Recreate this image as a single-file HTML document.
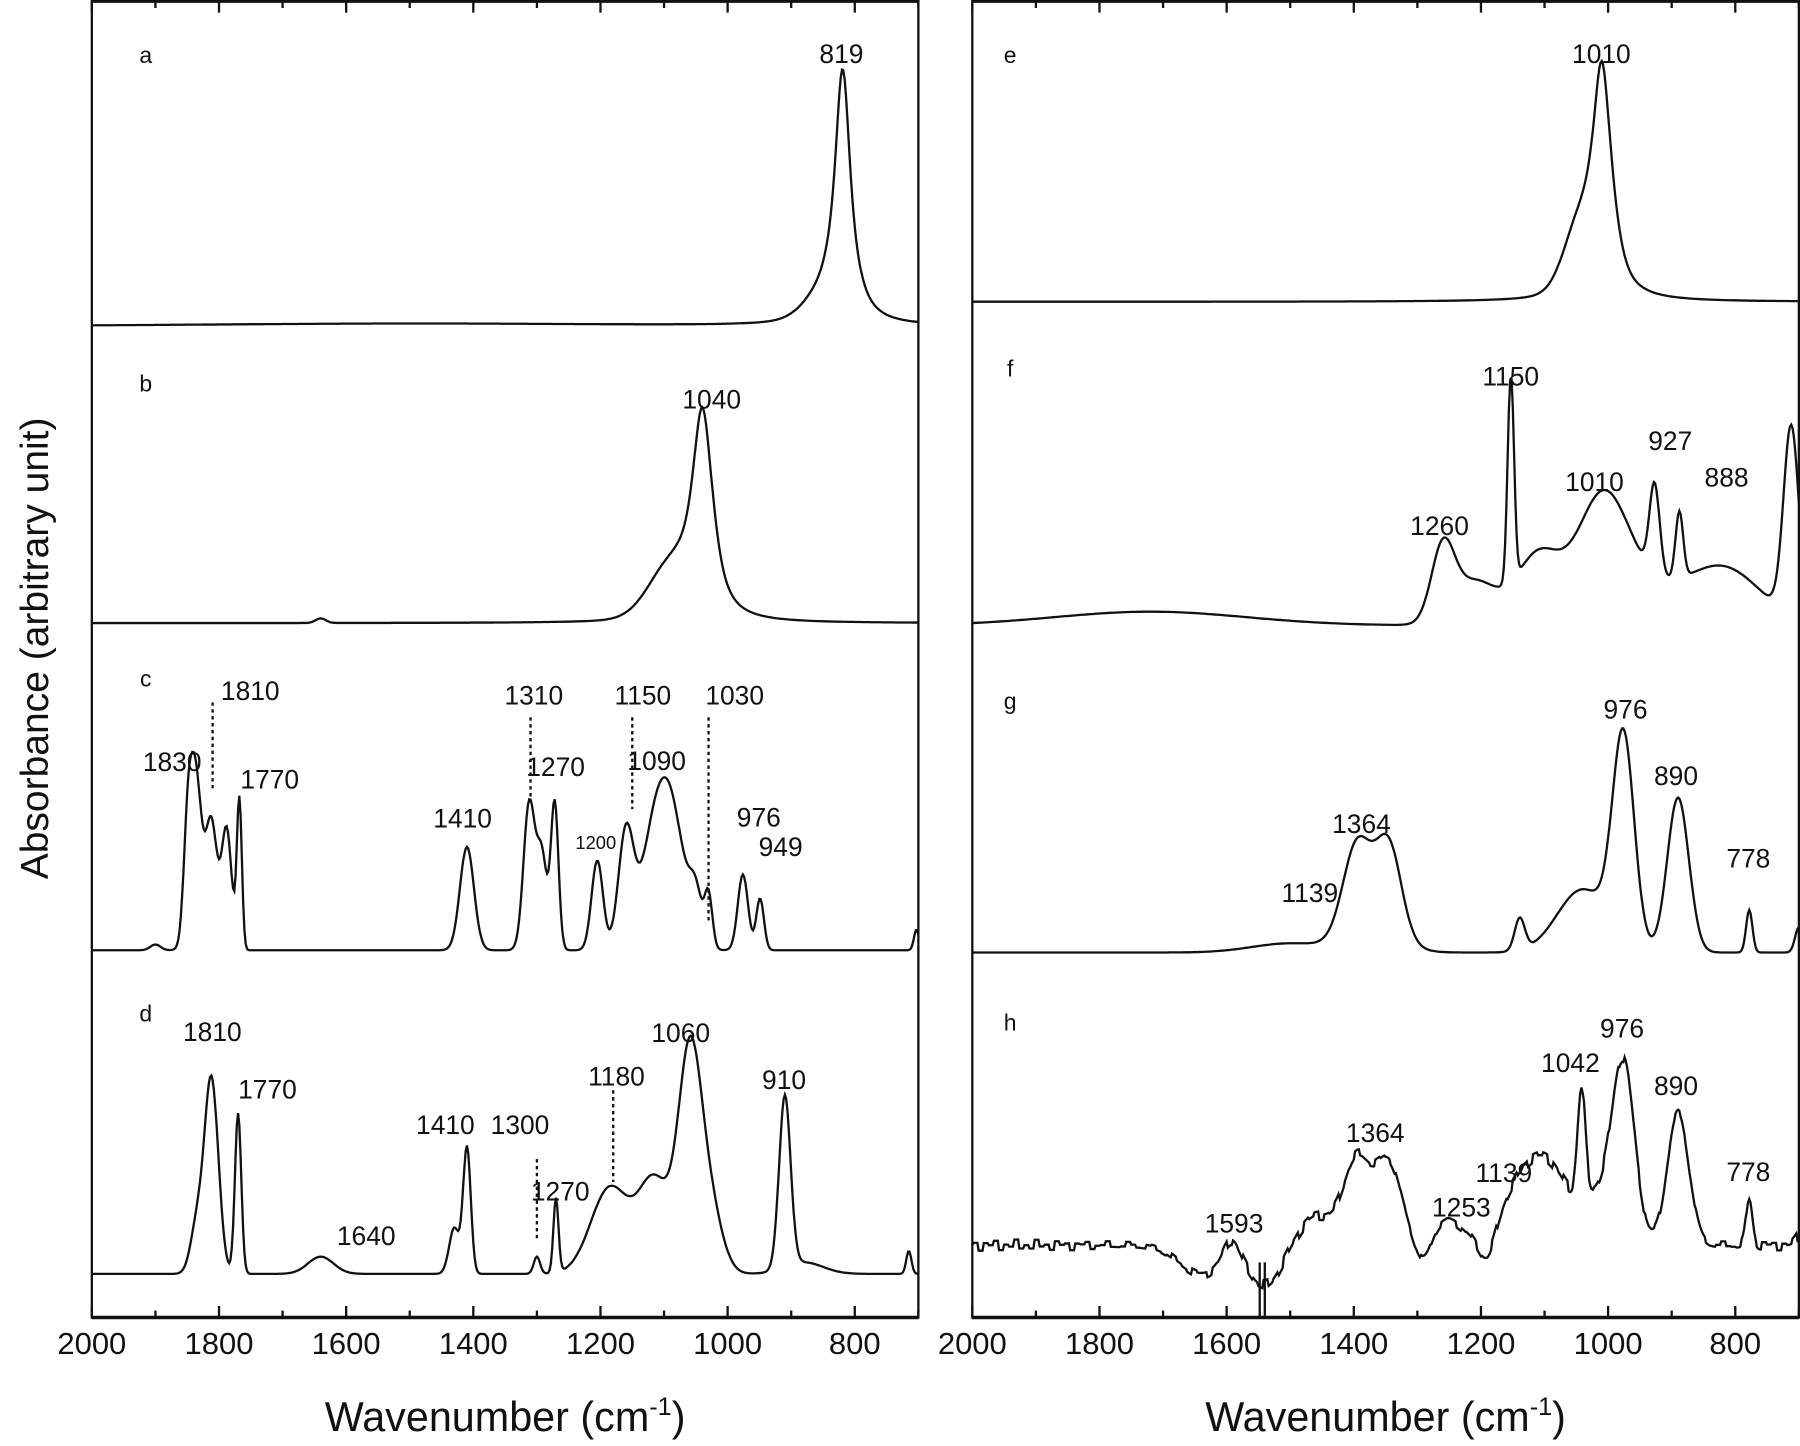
<!DOCTYPE html>
<html><head><meta charset="utf-8"><style>
html,body{margin:0;padding:0;background:#fff}
svg{display:block}
text{font-family:"Liberation Sans",Arial,sans-serif;fill:#111}
</style></head><body>
<svg id="s" width="1800" height="1446" viewBox="0 0 1568 1260" preserveAspectRatio="none" xmlns="http://www.w3.org/2000/svg">
<g id="g" fill="none" stroke="#111" stroke-width="2"></g>
<g id="t" font-size="22"></g>
<text x="0" y="0" font-size="34" transform="translate(42,565) rotate(-90)" text-anchor="middle">Absorbance (arbitrary unit)</text>
<text x="440" y="1247" font-size="36" text-anchor="middle">Wavenumber (cm<tspan font-size="22" dy="-14">-1</tspan><tspan dy="14">)</tspan></text>
<text x="1207" y="1247" font-size="36" text-anchor="middle">Wavenumber (cm<tspan font-size="22" dy="-14">-1</tspan><tspan dy="14">)</tspan></text>
</svg>
<script>
var G=document.getElementById('g'),T=document.getElementById('t');
function el(p,tag,a,txt){var e=document.createElementNS('http://www.w3.org/2000/svg',tag);for(var k in a)e.setAttribute(k,a[k]);if(txt!==undefined)e.textContent=txt;p.appendChild(e);return e;}
var P=[{x0:80,x1:800},{x0:847,x1:1567}];
function X(p,w){return P[p].x0+(2000-w)*(P[p].x1-P[p].x0)/1300;}
P.forEach(function(p,i){
 el(G,'rect',{x:p.x0,y:1,width:p.x1-p.x0,height:1147,'stroke-width':2});
 el(G,'line',{x1:p.x0,y1:1,x2:p.x1,y2:1,'stroke-width':3});
 el(G,'line',{x1:p.x0,y1:1148,x2:p.x1,y2:1148,'stroke-width':3});
 for(var w=2000;w>=700;w-=100){var x=X(i,w),L=(w%200==0)?10:6;
  el(G,'line',{x1:x,y1:1148,x2:x,y2:1148-L});el(G,'line',{x1:x,y1:1,x2:x,y2:1+L});
  if(w%200==0)el(T,'text',{x:x,y:1180,'font-size':27,'text-anchor':'middle'},w);}
});
function gs(w,c,h,s){var d=(w-c)/s;return h*Math.exp(-0.5*d*d);}
function lz(w,c,h,s){var d=(w-c)/s;return h/(1+d*d);}
function spec(p,f){var d='';for(var w=2000;w>=700;w-=2){var y=f(w);d+=(w==2000?'M':'L')+X(p,w).toFixed(1)+','+y.toFixed(1);}el(G,'path',{d:d});}
function nz(w,a){var k=Math.floor(w/8);return a*Math.sin(k*2.3)*Math.cos(k*0.9);}
spec(0,function(w){return 284-gs(w,1500,2,300)-lz(w,819,215,15)-gs(w,850,15,30);});
spec(0,function(w){return 543-lz(w,1040,150,20)-gs(w,1090,40,35)-gs(w,1035,25,15)-gs(w,1640,4,8);});
spec(0,function(w){return 828-gs(w,1838,160,10)-gs(w,1812,110,9)-gs(w,1788,105,8)-gs(w,1768,130,4)-gs(w,1850,60,6)-gs(w,1410,90,11)
 -gs(w,1312,128,9)-gs(w,1272,128,6)-gs(w,1292,80,8)-gs(w,1205,78,9)-gs(w,1160,100,12)-gs(w,1090,120,22)-gs(w,1120,70,20)-gs(w,1050,40,10)-gs(w,1030,45,6)-gs(w,976,66,8)-gs(w,949,45,6)-gs(w,703,18,4)-gs(w,1900,5,8);});
spec(0,function(w){return 1110-gs(w,1812,170,11)-gs(w,1835,40,10)-gs(w,1770,140,5)-gs(w,1640,15,20)-gs(w,1410,110,6)-gs(w,1430,40,8)-gs(w,1300,15,5)-gs(w,1270,65,4)
 -gs(w,1185,75,30)-gs(w,1115,80,25)-gs(w,1060,180,18)-gs(w,1030,60,20)-gs(w,910,150,9)-gs(w,715,20,4)-gs(w,880,10,30);});
spec(1,function(w){return 263-lz(w,1010,175,18)-gs(w,1045,50,25)-gs(w,1000,20,15);});
spec(1,function(w){return 545-gs(w,1720,12,150)-gs(w,1260,62,18)-gs(w,1210,38,35)-gs(w,1153,180,5)-gs(w,1110,60,35)-gs(w,1010,95,40)-gs(w,927,78,8)-gs(w,888,58,6)-gs(w,960,30,60)-gs(w,820,50,60)-gs(w,712,165,12);});
spec(1,function(w){return 830-gs(w,1395,78,22)-gs(w,1345,78,20)-gs(w,1370,20,40)-gs(w,1500,8,60)-gs(w,1139,28,8)-gs(w,976,180,17)-gs(w,1040,55,40)-gs(w,890,135,17)-gs(w,778,37,5)-gs(w,700,22,6);});
spec(1,function(w){var y=1085+nz(w,5)+gs(w,1640,25,35)+gs(w,1540,35,25)+gs(w,1190,22,12)+gs(w,1290,20,12);
 return y-gs(w,1593,18,12)-gs(w,1395,75,22)-gs(w,1345,70,20)-gs(w,1460,25,25)-gs(w,1253,22,25)-gs(w,1139,48,30)-gs(w,1090,60,30)-gs(w,1042,95,6)-gs(w,976,155,18)-gs(w,1020,40,25)-gs(w,890,115,17)-gs(w,778,40,5)-gs(w,700,8,6);});
el(G,'line',{x1:X(1,1540),y1:1100,x2:X(1,1540),y2:1148});
el(G,'line',{x1:X(1,1548),y1:1100,x2:X(1,1548),y2:1148});
[[0,1810,612,690],[0,1310,625,695],[0,1150,625,705],[0,1030,625,805],[0,1300,1010,1080],[0,1180,950,1030]].forEach(function(a){
 el(G,'line',{x1:X(a[0],a[1]),y1:a[2],x2:X(a[0],a[1]),y2:a[3],'stroke-width':2,'stroke-dasharray':'3,3'});});
var labs=[[127,55,'a'],[733,55,'819'],[127,341,'b'],[620,356,'1040'],[127,598,'c'],[150,672,'1830'],[218,610,'1810'],[235,687,'1770'],[403,721,'1410'],[465,614,'1310'],[484,676,'1270'],[560,614,'1150'],[572,671,'1090'],[640,614,'1030'],[661,720,'976'],[680,746,'949'],
[127,890,'d'],[185,907,'1810'],[233,957,'1770'],[319,1085,'1640'],[388,988,'1410'],[453,988,'1300'],[488,1046,'1270'],[537,946,'1180'],[593,908,'1060'],[683,949,'910'],
[880,55,'e'],[1395,55,'1010'],[880,328,'f'],[1316,336,'1150'],[1254,466,'1260'],[1389,428,'1010'],[1455,392,'927'],[1504,424,'888'],
[880,618,'g'],[1416,626,'976'],[1460,684,'890'],[1186,726,'1364'],[1141,786,'1139'],[1523,756,'778'],
[880,898,'h'],[1413,904,'976'],[1368,934,'1042'],[1460,954,'890'],[1198,995,'1364'],[1310,1030,'1139'],[1273,1060,'1253'],[1075,1074,'1593'],[1523,1029,'778']];
labs.forEach(function(l){el(T,'text',{x:l[0],y:l[1],'text-anchor':'middle','font-size':(l[2].length==1?20:23)},l[2]);});
el(T,'text',{x:519,y:740,'text-anchor':'middle','font-size':16},'1200');
</script>
</body></html>
